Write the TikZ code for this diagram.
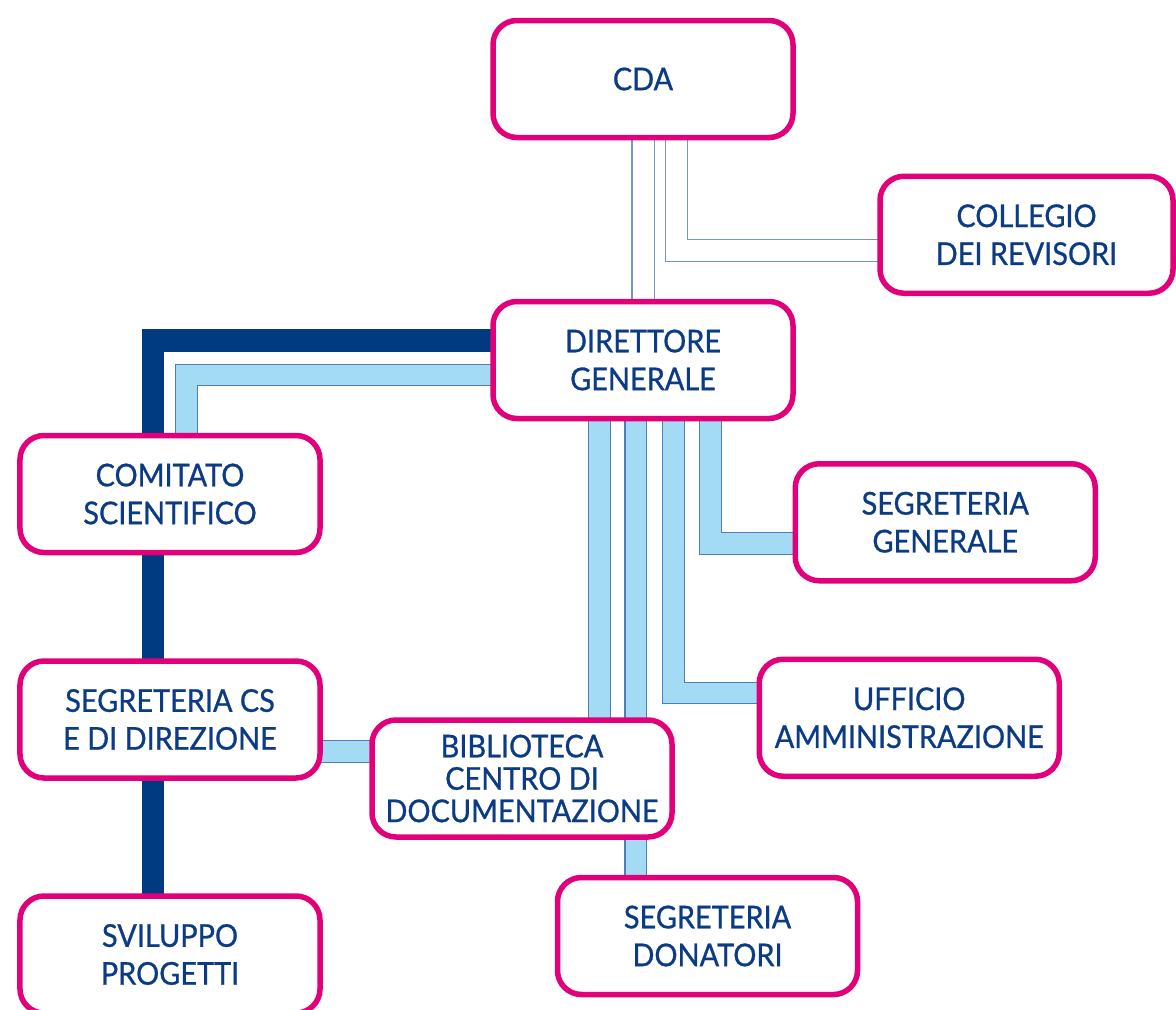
\documentclass[tikz,border=0pt]{standalone}
\usepackage{fontspec}
\setmainfont{Lato}[FakeStretch=0.92, FakeBold=0.8]
\definecolor{mag}{HTML}{E2007A}
\definecolor{navy}{HTML}{003A80}
\definecolor{txt}{HTML}{0B3B84}
\definecolor{sky}{HTML}{A3DAF4}
\definecolor{edgeblue}{HTML}{4F7DB8}
\definecolor{thinl}{HTML}{7596C4}
\pgfdeclarelayer{bg}
\pgfsetlayers{bg,main}
\begin{document}
\begin{tikzpicture}[x=1bp,y=-1bp,
  box/.style={draw=mag, line width=5.5bp, rounded corners=24bp, fill=white,
    minimum width=300bp, minimum height=117bp, align=center, text=txt,
    font=\fontsize{31.5}{38}\selectfont, inner sep=0pt},
  pipe/.style={draw=thinl, line width=1.3bp, double=white, double distance=21bp, line join=miter},
  band/.style={draw=edgeblue, line width=1.2bp, double=sky, double distance=20.5bp, line join=miter},
  navyline/.style={draw=navy, line width=22.5bp, line join=miter}]
\useasboundingbox (0,0) rectangle (1176,1010);

\node[box] (cda) at (643,79) {CDA};
\node[box, minimum width=293bp] (col) at (1026.5,234.75) {COLLEGIO\\DEI REVISORI};
\node[box] (dir) at (643,360) {DIRETTORE\\GENERALE};
\node[box] (com) at (170,494) {COMITATO\\SCIENTIFICO};
\node[box] (sgen) at (945.25,522.25) {SEGRETERIA\\GENERALE};
\node[box] (scs) at (170,719.5) {SEGRETERIA CS\\E DI DIREZIONE};
\node[box] (uff) at (909.25,717.75) {UFFICIO\\AMMINISTRAZIONE};
\node[box, font=\fontsize{31.5}{32.5}\selectfont] (bib) at (522,778.5) {BIBLIOTECA\\CENTRO DI\\DOCUMENTAZIONE};
\node[box] (don) at (707.5,936) {SEGRETERIA\\DONATORI};
\node[box] (svil) at (170,954.5) {SVILUPPO\\PROGETTI};

\coordinate (xa) at (643,0);
\coordinate (xb) at (676.5,250.5);
\coordinate (dk) at (153,340.7);
\coordinate (lb) at (186.5,375);
\coordinate (c1) at (599.5,0);
\coordinate (c2) at (635.8,0);
\coordinate (c3) at (673.7,693);
\coordinate (c4) at (710.5,543.3);
\coordinate (hy) at (0,751.5);

\begin{pgfonlayer}{bg}
\fill[white] (0,0) rectangle (1176,1010);
\draw[pipe] (xa |- cda) -- (xa |- dir);
\draw[pipe] (xb |- cda) -- (xb) -- (xb -| col);
\draw[navyline] (dk -| dir) -- (dk) -- (dk |- svil);
\draw[band] (lb -| dir) -- (lb) -- (lb |- com);
\draw[band] (c1 |- dir) -- (c1 |- bib);
\draw[band] (c2 |- dir) -- (c2 |- don);
\draw[band] (c3 |- dir) -- (c3) -- (c3 -| uff);
\draw[band] (c4 |- dir) -- (c4) -- (c4 -| sgen);
\draw[band] (hy -| scs) -- (hy -| bib);
\end{pgfonlayer}
\end{tikzpicture}
\end{document}
